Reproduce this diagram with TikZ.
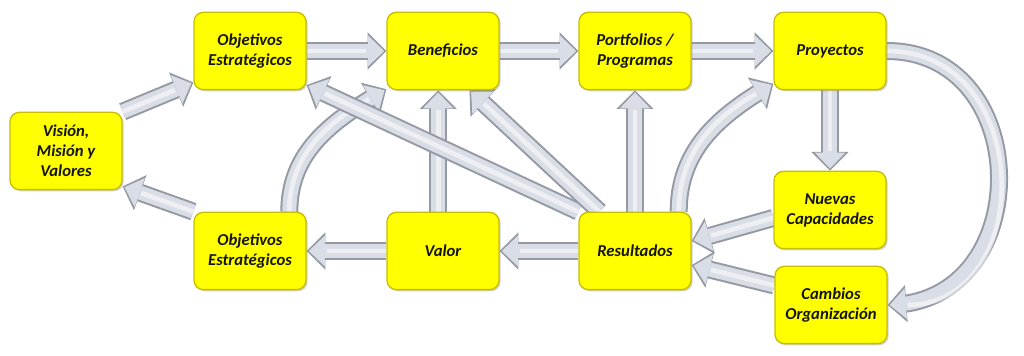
\documentclass[tikz,border=0pt]{standalone}
\usepackage{fontspec}
\setmainfont{Carlito}
\usetikzlibrary{arrows.meta,bending,shadows,backgrounds}
\definecolor{boxyellow}{HTML}{FFFF00}
\definecolor{boxedge}{HTML}{C8BE00}
\definecolor{shaftfill}{HTML}{D9DDE6}
\definecolor{shaftedge}{HTML}{9499A4}

\begin{document}
\begin{tikzpicture}[x=.75pt,y=.75pt,
  box/.style={draw=boxedge,line width=1pt,fill=boxyellow,rounded corners=7pt,minimum width=84pt,minimum height=58pt,align=center,
    font=\fontsize{12.5}{15}\selectfont\bfseries\itshape,text=black!92,drop shadow={shadow xshift=1.2pt,shadow yshift=-1.2pt,opacity=.35}},
  flow/.style={draw=shaftfill,line width=10.5pt,-{Triangle[length=12pt,width=23pt,line width=0pt]},shorten >=1.6pt,
    preaction={draw=shaftedge,line width=13.5pt,-{Triangle[length=14pt,width=28pt,line width=0pt]},shorten >=0pt},
    postaction={draw=white,opacity=.55,line width=3.5pt,arrows=-,shorten >=15pt}}]
\useasboundingbox (0,0) rectangle (1024,356);
\node[box] (vis) at (66,205) {Visión,\\Misión y\\Valores};
\node[box] (objA) at (250,305) {Objetivos\\Estratégicos};
\node[box] (ben) at (443,305) {Beneficios};
\node[box] (port) at (635,305) {Portfolios /\\Programas};
\node[box] (proy) at (830,305) {Proyectos};
\node[box] (objB) at (250,105) {Objetivos\\Estratégicos};
\node[box] (val) at (443,105) {Valor};
\node[box] (res) at (635,105) {Resultados};
\node[box] (nue) at (830,146) {Nuevas\\Capacidades};
\node[box] (cam) at (831,51) {Cambios\\Organización};
\begin{scope}[on background layer]
\draw[flow] (vis.north east) -- (objA.209);
\draw[flow] (objB.north west) -- (vis.328);
\draw[flow] (objA.east) -- (ben.west);
\draw[flow] (ben.east) -- (port.west);
\draw[flow] (port.east) -- (proy.west);
\draw[flow] (proy.south) -- (nue.north);
\draw[flow] (proy.east) to[out=0,in=0,looseness=1.5] (cam.east);
\draw[flow] (res.42) to[out=90,in=210] (proy.210);
\draw[flow] (objB.45) to[out=90,in=210] (ben.214);
\draw[flow] (val.97) -- (ben.263);
\draw[flow] (res.north) -- (port.south);
\draw[flow] (res.north west) -- (objA.329);
\draw[flow] (res.132) -- (ben.304);
\draw[flow] (res.west) -- (val.east);
\draw[flow] (val.west) -- (objB.east);
\draw[flow] (nue.188) -- (res.10);
\draw[flow] (cam.161) -- (res.346);
\end{scope}
\end{tikzpicture}
\end{document}
